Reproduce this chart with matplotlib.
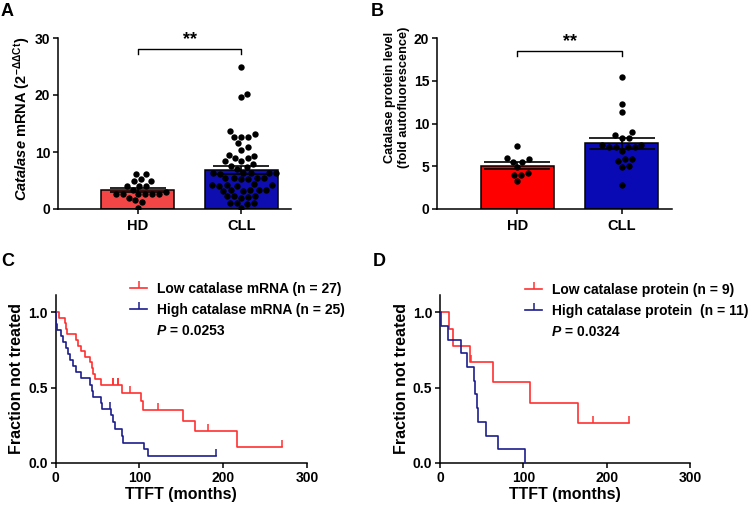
import numpy as np
import matplotlib
matplotlib.use("Agg")
import matplotlib.pyplot as plt
from matplotlib.lines import Line2D

plt.rcParams['font.family'] = ['Liberation Sans', 'DejaVu Sans']
plt.rcParams['font.weight'] = 'bold'
plt.rcParams['mathtext.fontset'] = 'custom'
plt.rcParams['mathtext.rm'] = 'Liberation Sans:bold'
plt.rcParams['mathtext.it'] = 'Liberation Sans:italic:bold'
plt.rcParams['mathtext.bf'] = 'Liberation Sans:bold'
plt.rcParams['axes.linewidth'] = 1.1

# -------------------------------------------------------------------------
# Data
# -------------------------------------------------------------------------
groups = ["HD", "CLL"]

# A: catalase mRNA (2^-ddCt)
mrna_hd = [6.2, 6.2, 5.0, 5.3, 4.9, 4.1, 4.0, 4.1, 2.7, 2.6, 2.7, 2.6, 2.7, 2.7,
           2.0, 1.5, 1.2, 0.2, 3.0, 3.4]
mrna_cll = [24.9, 20.2, 19.6, 13.7, 13.2, 12.7, 12.7, 12.7, 11.5, 10.8, 10.4, 9.5,
            9.3, 8.9, 8.9, 8.4, 8.4, 7.9, 7.6, 7.4, 7.1,
            6.3, 6.4, 6.2, 6.3, 6.4, 6.3,
            5.4, 5.5, 5.3, 5.4, 5.4, 5.2,
            4.2, 4.3, 4.1, 4.2, 4.0, 4.2,
            3.3, 3.2, 3.4, 3.3, 3.1, 3.3,
            2.2, 2.1, 2.3, 2.2, 2.0,
            1.0, 1.1, 0.9, 1.0, 0.1]

# B: catalase protein (fold autofluorescence)
prot_hd = [7.4, 6.0, 5.8, 5.5, 5.5, 4.9, 4.0, 4.0, 4.2, 3.3]
prot_cll = [15.4, 12.3, 11.4, 9.0, 8.6, 8.3, 8.3, 7.5, 7.2, 7.2, 7.2, 7.2, 7.5,
            6.8, 5.9, 5.8, 5.6, 5.0, 4.9, 2.8]

# C: TTFT by mRNA level (months, 1 = treated, 0 = censored)
low_mrna_t = [4, 11, 13, 14, 24, 27, 31, 35, 41, 43, 45, 47, 54,
              68, 68, 74, 74, 79, 89, 102, 104, 122, 152, 166, 182, 216, 270]
low_mrna_e = [1, 1, 1, 1, 1, 1, 1, 1, 1, 1, 1, 1, 1,
              0, 0, 0, 0, 1, 0, 1, 1, 0, 1, 1, 0, 1, 0]
high_mrna_t = [0.5, 1, 1.5, 6, 9, 13, 15, 17, 21, 24, 31, 41, 43, 45, 54, 56,
               65, 66, 69, 71, 79, 81, 106, 110, 191]
high_mrna_e = [1, 1, 1, 1, 1, 1, 1, 1, 1, 1, 1, 1, 1, 1, 1, 1,
               0, 1, 1, 1, 1, 1, 1, 1, 0]

# D: TTFT by protein level
low_prot_t = [11, 16, 36, 37, 63, 108, 166, 183, 227]
low_prot_e = [1, 1, 1, 0, 1, 1, 1, 0, 0]
high_prot_t = [1, 10, 25, 32, 41, 42, 44, 46, 55, 69, 102]
high_prot_e = [1, 1, 1, 1, 1, 1, 1, 1, 1, 1, 1]

W, H = 749, 509
fig = plt.figure(figsize=(W / 100, H / 100), dpi=100)


def px_axes(left, right, bottom, top):
    return fig.add_axes([left / W, 1 - bottom / H, (right - left) / W, (bottom - top) / H])


def swarm(ax, vals, center, dot_px):
    # simple beeswarm: place each dot as close to the centre as it can go
    tr = ax.transData
    ys = tr.transform(np.column_stack([np.full(len(vals), center), vals]))[:, 1]
    ppx = tr.transform((1, 0))[0] - tr.transform((0, 0))[0]
    placed = []
    xs = np.zeros(len(vals))
    for i in np.argsort(vals):
        y = ys[i]
        cands = [0.0]
        for px, py in placed:
            dy = y - py
            if abs(dy) < dot_px:
                dx = np.sqrt(dot_px ** 2 - dy ** 2)
                cands += [px + dx, px - dx]
        cands.sort(key=abs)
        for c in cands:
            if all((c - px) ** 2 + (y - py) ** 2 >= dot_px ** 2 - 1e-6 for px, py in placed):
                xs[i] = c
                placed.append((c, y))
                break
    return center + xs / ppx


def bar_panel(ax, hd, cll, colors, ymax, yticks, bracket_y, cap):
    ax.set_xlim(-0.77, 1.48)
    ax.set_ylim(0, ymax)
    data = [np.array(hd), np.array(cll)]
    means = [d.mean() for d in data]
    sems = [d.std(ddof=1) / np.sqrt(len(d)) for d in data]
    ax.bar([0, 1], means, width=0.7, color=colors, edgecolor='black', linewidth=1.1, zorder=1)
    for i, d in enumerate(data):
        xs = swarm(ax, d, i, 7.0)
        ax.scatter(xs, d, s=21, color='black', zorder=3, linewidths=0)
    ax.errorbar([0, 1], means, yerr=sems, fmt='none', ecolor='black', elinewidth=1.2,
                capsize=cap, capthick=1.2, zorder=4)
    # significance bracket
    drop = ymax * 0.03
    ax.plot([0, 0, 1, 1], [bracket_y - drop, bracket_y, bracket_y, bracket_y - drop],
            color='black', lw=1.0, clip_on=False)
    ax.text(0.5, bracket_y + ymax * 0.005, "**", ha='center', va='bottom', fontsize=13,
            fontweight='bold')
    ax.set_yticks(yticks)
    ax.set_xticks([0, 1])
    ax.set_xticklabels(groups, fontsize=10.5, fontweight='bold')
    ax.tick_params(axis='y', labelsize=10, width=1.1, length=3.5, pad=2)
    ax.tick_params(axis='x', width=1.1, length=3.5, pad=4)
    for s in ['top', 'right']:
        ax.spines[s].set_visible(False)


def km_curve(ax, times, events, color):
    times = np.array(times, float)
    events = np.array(events)
    n = len(times)
    surv = 1.0
    xs, ys = [0.0], [1.0]
    ct, cs = [], []
    for u in np.unique(times):
        d = int(events[times == u].sum())
        c = int((times == u).sum()) - d
        if d:
            surv *= (n - d) / n
            xs.append(u)
            ys.append(surv)
        if c:
            ct += [u] * c
            cs += [surv] * c
        n -= d + c
    if xs[-1] < times.max():
        xs.append(times.max())
        ys.append(surv)
    ax.plot(xs, ys, drawstyle='steps-post', color=color, lw=1.2, zorder=3)
    ax.plot(ct, cs, linestyle='none', marker=2, markersize=5, mew=1.1, color=color, zorder=3)


def km_panel(ax, curves, labels, ptext, leg_x, leg_y):
    red, blue = '#ff3030', '#1c1c8c'
    km_curve(ax, curves[0][0], curves[0][1], red)
    km_curve(ax, curves[1][0], curves[1][1], blue)
    ax.set_xlim(0, 300)
    ax.set_ylim(0, 1.113)
    ax.set_xticks([0, 100, 200, 300])
    ax.set_yticks([0, 0.5, 1.0])
    ax.set_yticklabels(["0.0", "0.5", "1.0"])
    ax.tick_params(labelsize=10, width=1.1, length=3.5, pad=2)
    for s in ['top', 'right']:
        ax.spines[s].set_visible(False)
    ax.set_xlabel("TTFT (months)", fontsize=11.5, fontweight='bold', labelpad=2)
    ax.set_ylabel("Fraction not treated", fontsize=11.5, fontweight='bold', labelpad=3)
    handles = [Line2D([], [], color=c, lw=1.2, marker=2, markersize=5, mew=1.1) for c in (red, blue)]
    ax.legend(handles, labels, loc='upper left', bbox_to_anchor=(leg_x / W, 1 - leg_y / H),
              bbox_transform=fig.transFigure, frameon=False, numpoints=1,
              handlelength=1.25, handletextpad=0.7, labelspacing=0.5, borderpad=0,
              borderaxespad=0, prop={'weight': 'bold', 'size': 10})
    p = fig.text((leg_x + 27) / W, 1 - ptext[1] / H, "P", fontsize=10, fontweight='bold',
                 fontstyle='italic', va='center')
    ax.annotate(" = " + ptext[0], xy=(1, 0), xycoords=p, va='bottom', fontsize=10,
                fontweight='bold', annotation_clip=False)


# -------------------------------------------------------------------------
# Panels
# -------------------------------------------------------------------------
axA = px_axes(58, 291, 209, 38)
bar_panel(axA, mrna_hd, mrna_cll, ['#f24646', '#0d0db0'], 30, [0, 10, 20, 30], 28.1, 20)
fig.text(22 / W, 1 - 119 / H, r"$\mathit{Catalase}$ mRNA (2$^{\mathrm{-\Delta\Delta Ct}}$)",
         rotation=90, ha='center', va='center', fontsize=10.5, fontweight='bold')

axB = px_axes(437, 672, 209, 38)
bar_panel(axB, prot_hd, prot_cll, ['#ff0000', '#0a0ab4'], 20, [0, 5, 10, 15, 20], 18.5, 24)
fig.text(397 / W, 1 - 97 / H, "Catalase protein level\n(fold autofluorescence)",
         rotation=90, ha='center', va='center', fontsize=9.2, fontweight='bold',
         multialignment='center', linespacing=1.2)

axC = px_axes(55.5, 307, 463, 295)
km_panel(axC, [(low_mrna_t, low_mrna_e), (high_mrna_t, high_mrna_e)],
         ["Low catalase mRNA (n = 27)", "High catalase mRNA (n = 25)"],
         ("0.0253", 331), 130, 282)

axD = px_axes(440, 690, 463, 295)
km_panel(axD, [(low_prot_t, low_prot_e), (high_prot_t, high_prot_e)],
         ["Low catalase protein (n = 9)", "High catalase protein  (n = 11)"],
         ("0.0324", 332), 525, 283)

# panel letters
for letter, x, y in [("A", 1, 11), ("B", 371, 11), ("C", 1, 261), ("D", 373, 261)]:
    fig.text(x / W, 1 - y / H, letter, fontsize=13, fontweight='bold', va='center', ha='left')

fig.savefig("out.png", dpi=100)
